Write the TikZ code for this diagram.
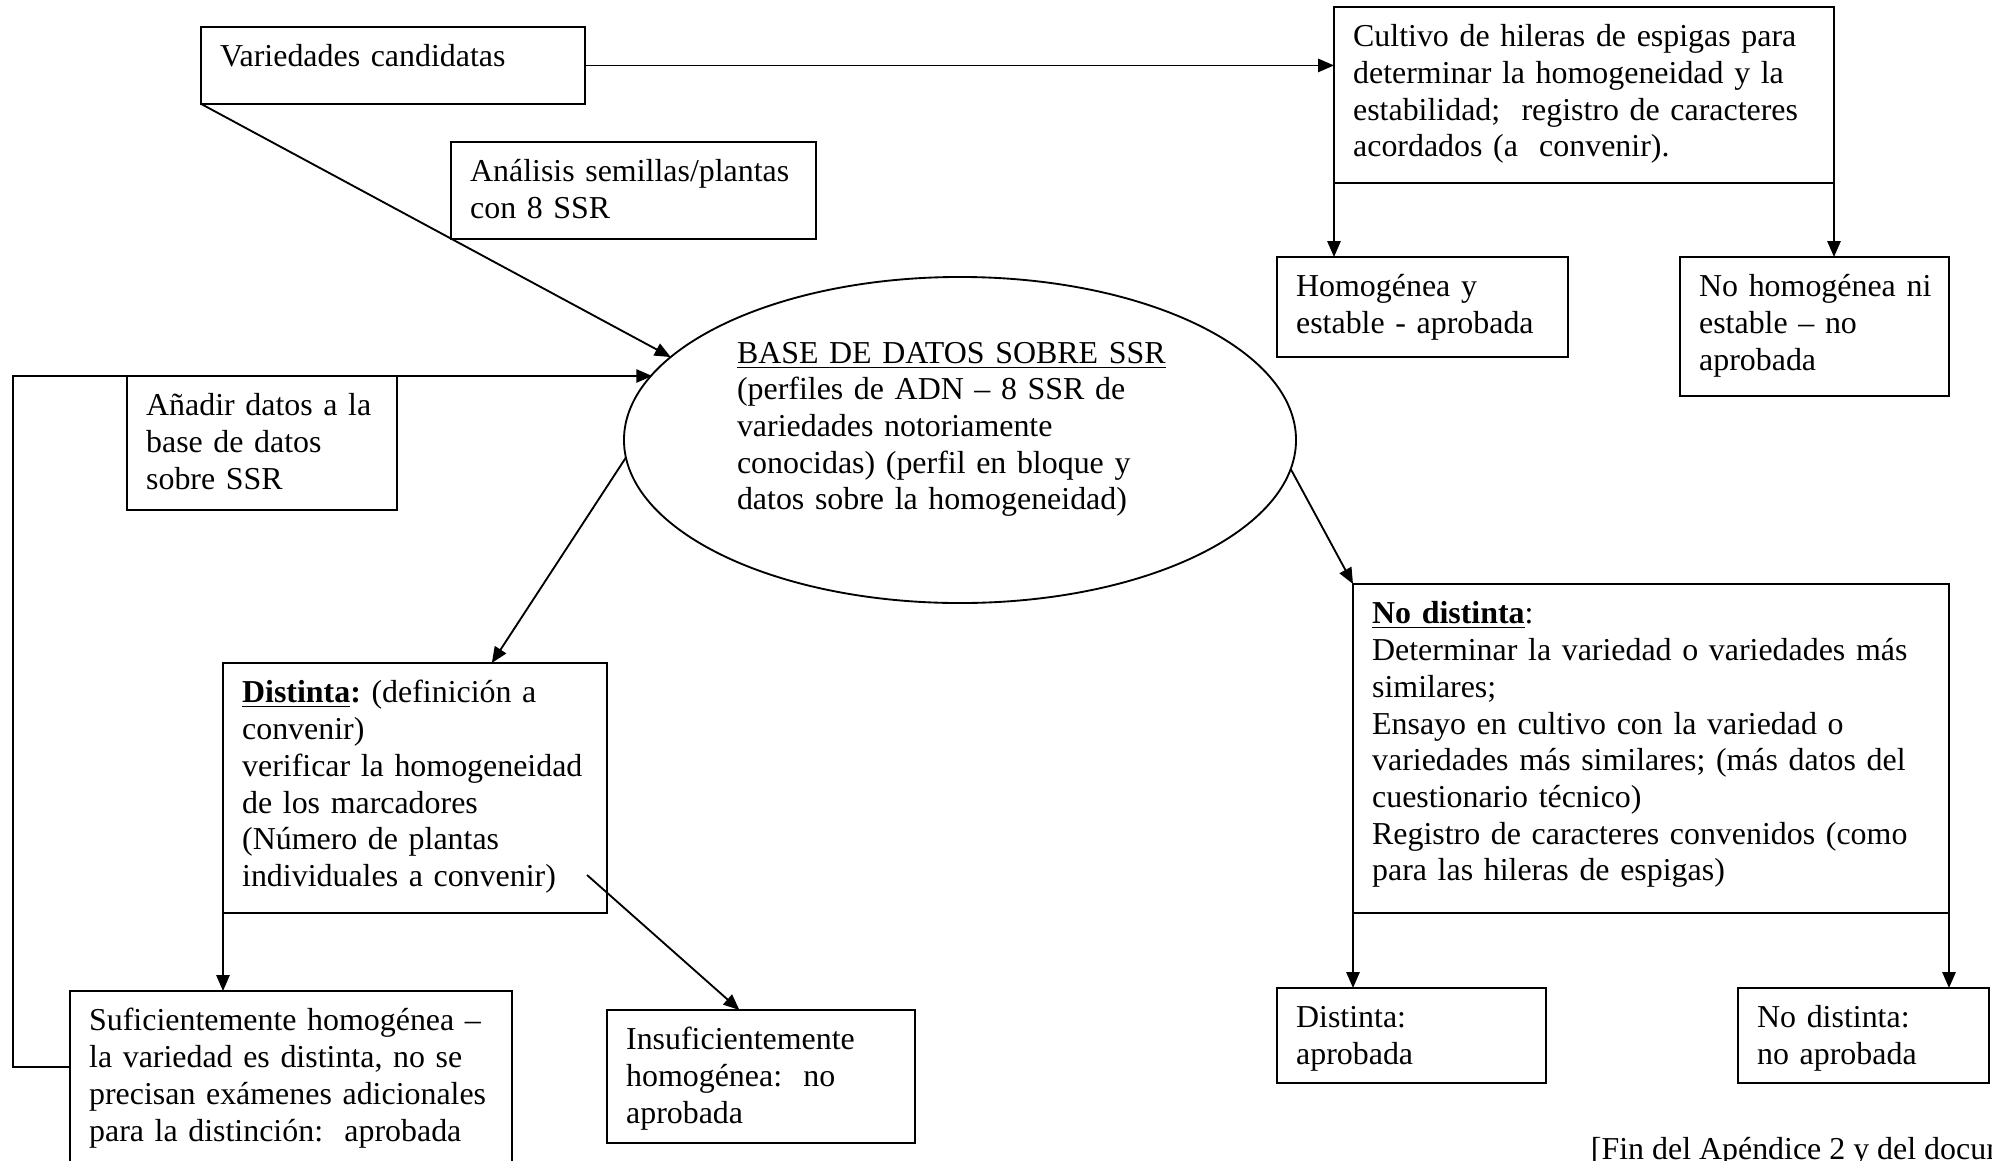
\documentclass[tikz,border=0pt]{standalone}
\usepackage{fontspec}
\setmainfont{Liberation Serif}
\usetikzlibrary{arrows.meta,shapes.geometric,calc}
\frenchspacing

\begin{document}
\begin{tikzpicture}[x=0.376pt, y=-0.376pt, line width=0.7pt,
	font=\fontsize{12pt}{13.8pt}\selectfont,
	box/.style={draw, anchor=north west, align=left, inner xsep=7.2pt, inner ysep=0pt, outer sep=0pt, text height=15pt},
	dbase/.style={draw, ellipse, minimum width=252.7pt, minimum height=122.6pt, inner sep=0pt, outer sep=0pt, align=left, text width=167.7pt, text height=13pt, text depth=70.9pt},
	arr/.style={-{Triangle[length=6pt, width=5pt]}}]
	\useasboundingbox (0,0) rectangle (1992,1160);
	\clip (0,0) rectangle (1992,1160);
	\node[box, text width=130pt, text depth=13.9pt] (var) at (201,27) {Variedades candidatas};
	\node[box, text width=122.8pt, text depth=21.4pt] (ana) at (451,142) {\mbox{Análisis semillas/plantas}\\con 8 SSR};
	\node[box, text width=173.6pt, text depth=51.1pt] (cult) at (1334,7) {Cultivo de hileras de espigas para\\determinar la homogeneidad y la\\estabilidad;\ \ registro de caracteres\\acordados (a\ \ convenir).};
	\node[box, text width=95pt, text depth=22.6pt] (homo) at (1277,257) {Homogénea y\\estable - aprobada};
	\node[box, text width=86.7pt, text depth=37.2pt] (nohomo) at (1680,257) {\mbox{No homogénea ni}\\estable – no\\aprobada};
	\node[dbase] (db) at (960,440) {\underline{BASE DE DATOS SOBRE SSR}\\(perfiles de ADN – 8 SSR de\\variedades notoriamente\\conocidas) (perfil en bloque y\\datos sobre la homogeneidad)};
	\node[box, text width=87.1pt, text depth=35.3pt] (anad) at (127,376) {Añadir datos a la\\base de datos\\sobre SSR};
	\node[box, text width=130pt, text depth=79pt] (dist) at (223,663) {\underline{\textbf{Distinta}}\textbf{:} (definición a\\convenir)\\\mbox{verificar la homogeneidad}\\de los marcadores\\(Número de plantas\\individuales a convenir)};
	\node[box, text width=151.8pt, text depth=56.4pt] (suf) at (70,991) {Suficientemente homogénea –\\la variedad es distinta, no se\\\mbox{precisan exámenes adicionales}\\para la distinción:\ \ aprobada};
	\node[box, text width=101.4pt, text depth=35pt] (insuf) at (607,1010) {Insuficientemente\\homogénea:\ \ no\\aprobada};
	\node[box, text width=209.7pt, text depth=108.7pt] (nodist) at (1353,584) {\underline{\textbf{No distinta}}:\\Determinar la variedad o variedades más\\similares;\\Ensayo en cultivo con la variedad o\\variedades más similares; (más datos del\\cuestionario técnico)\\Registro de caracteres convenidos (como\\para las hileras de espigas)};
	\node[box, text width=86.7pt, text depth=20.7pt] (distap) at (1277,988) {Distinta:\\aprobada};
	\node[box, text width=80pt, text depth=20.7pt] (nodistap) at (1738,988) {No distinta:\\no aprobada};
	\node[anchor=base west, inner sep=0pt] (fin) at (1590,1159) {[Fin del Apéndice 2 y del documento]};

	\draw[arr] (var.east) -- (var.east -| cult.west);
	\draw[arr] (cult.south west) -- (cult.south west |- homo.north);
	\draw[arr] (cult.south east) -- (cult.south east |- nohomo.north);
	\draw[arr] (var.south west) -- (db.164);
	\draw[arr] ($(suf.north west)+(0,76)$) -- ++(-57,0) |- (anad.north -| db.168);
	\draw[arr] (db.183) -- ($(dist.north west)!.7!(dist.north east)$);
	\draw[arr] (dist.south west) -- (dist.south west |- suf.north);
	\draw[arr] ($(dist.south east)+(-20,-38)$) -- ($(insuf.north west)!.43!(insuf.north east)$);
	\draw[arr] (db.355) -- (nodist.north west);
	\draw[arr] (nodist.south west) -- (nodist.south west |- distap.north);
	\draw[arr] (nodist.south east) -- (nodist.south east |- nodistap.north);
\end{tikzpicture}
\end{document}
